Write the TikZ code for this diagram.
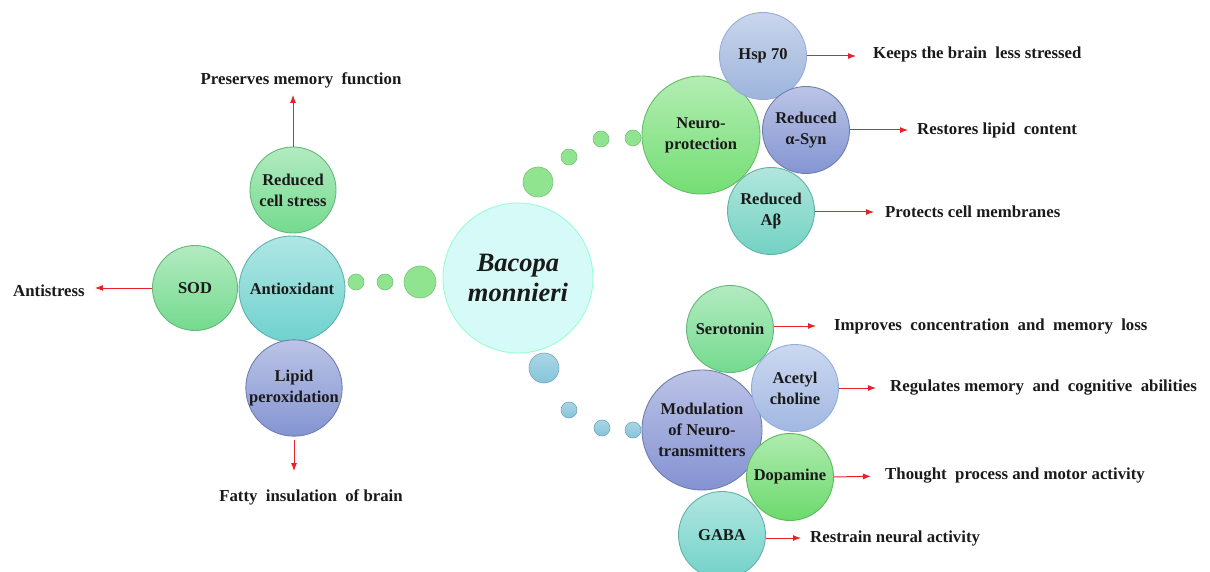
\documentclass[tikz,border=0pt]{standalone}
\usepackage{fontspec}
\setmainfont{Liberation Serif}
\usetikzlibrary{arrows.meta}
\definecolor{arrred}{HTML}{E8202A}
\definecolor{txt}{HTML}{1A1A1A}
\tikzset{
  bub/.style={circle, inner sep=0pt, line width=0.9pt, align=center, text=txt,
    font=\bfseries\fontsize{16.5}{21}\selectfont},
  gr/.style={bub, top color=#1!55!white, bottom color=#1, draw=#1!85!black},
  dot/.style={circle, inner sep=0pt, line width=0.6pt},
  gdot/.style={dot, fill=dotg, draw=dotg!85!black},
  bdot/.style={dot, top color=dotb!70!white, bottom color=dotb, draw=dotb!85!black},
  lbl/.style={inner sep=0pt, text=txt, font=\bfseries\fontsize{16.8}{19}\selectfont},
  arr/.style={draw=arrred, line width=1pt, -{Latex[length=8pt,width=6pt]}},
}
\definecolor{cgreen}{HTML}{74DA8E}
\definecolor{cteal}{HTML}{6FD2CE}
\definecolor{cperi}{HTML}{8494D2}
\definecolor{cneuro}{HTML}{74DE74}
\definecolor{chsp}{HTML}{9DB4DC}
\definecolor{csyn}{HTML}{8495D2}
\definecolor{cab}{HTML}{72D2C2}
\definecolor{cmod}{HTML}{8492D2}
\definecolor{cace}{HTML}{A2B8E2}
\definecolor{cdopa}{HTML}{6CDA6C}
\definecolor{cgaba}{HTML}{72D2C8}
\definecolor{dotg}{HTML}{90E490}
\definecolor{dotb}{HTML}{86C4DA}
\definecolor{cbac}{HTML}{D6FAF8}
\begin{document}
\begin{tikzpicture}[x=1pt,y=-1pt]
\useasboundingbox (0,0) rectangle (1210,572);
\begin{scope}
\clip (0,0) rectangle (1210,572);
% center
\node[bub, minimum size=150pt, fill=cbac, draw=green!45!cyan!40!white,
  font=\bfseries\itshape\fontsize{26.5}{30}\selectfont] (bac) at (518,278) {Bacopa\\monnieri};
% left branch
\node[gdot, minimum size=32pt] (l1) at (420,282) {};
\node[gdot, minimum size=16pt] (l2) at (385,282) {};
\node[gdot, minimum size=16pt] (l3) at (356,282) {};
\node[gr=cgreen, minimum size=85pt] (sod) at (195,288) {SOD};
\node[gr=cteal, minimum size=106pt] (anti) at (292,289) {Antioxidant};
\node[gr=cgreen, minimum size=86pt] (rcs) at (293,190) {Reduced\\cell stress};
\node[gr=cperi, minimum size=88pt] (lip) at (294,388) {Lipid\\peroxidation};
% neuroprotection branch
\node[gdot, minimum size=30pt] (u1) at (538,182) {};
\node[gdot, minimum size=16pt] (u2) at (569,157) {};
\node[gdot, minimum size=16pt] (u3) at (601,139) {};
\node[gdot, minimum size=16pt] (u4) at (633,138) {};
\node[gr=cneuro, minimum size=118pt] (neu) at (701,135) {Neuro-\\protection};
\node[gr=chsp, minimum size=87pt, draw=cyan!35!blue!40!white] (hsp) at (763,56) {Hsp 70};
\node[gr=csyn, minimum size=87pt] (syn) at (806,130) {Reduced\\α-Syn};
\node[gr=cab, minimum size=87pt] (ab) at (771,211) {Reduced\\Aβ};
% modulation branch
\node[bdot, minimum size=30pt] (b1) at (544,368) {};
\node[bdot, minimum size=16pt] (b2) at (569,410) {};
\node[bdot, minimum size=16pt] (b3) at (602,428) {};
\node[bdot, minimum size=16pt] (b4) at (633,430) {};
\node[gr=cmod, minimum size=120pt] (mod) at (702,430) {Modulation\\of Neuro-\\transmitters};
\node[gr=cgreen, minimum size=87pt] (ser) at (730,329) {Serotonin};
\node[gr=cace, minimum size=87pt, draw=cyan!50!blue!45!white] (ace) at (795,388) {Acetyl\\choline};
\node[gr=cgaba, minimum size=87pt] (gaba) at (722,535) {GABA};
\node[gr=cdopa, minimum size=87pt] (dopa) at (790,477) {Dopamine};
\end{scope}
% labels
\node[lbl] (t_pres) at (301,80) {Preserves memory\ \ function};
\node[lbl] (t_anti) at (49,291) {Antistress};
\node[lbl] (t_fat) at (311,497) {Fatty\ \ insulation\ \ of brain};
\node[lbl, anchor=west] (t_hsp) at (873,54) {Keeps the brain\ \ less stressed};
\node[lbl, anchor=west] (t_syn) at (917,130) {Restores lipid\ \ content};
\node[lbl, anchor=west] (t_ab) at (885,212) {Protects\ cell membranes};
\node[lbl, anchor=west] (t_ser) at (834,326) {Improves\ \ concentration\ \ and\ \ memory\ \ loss};
\node[lbl, anchor=west] (t_ace) at (890,388) {Regulates memory\ \ and\ \ cognitive\ \ abilities};
\node[lbl, anchor=west] (t_dopa) at (885,476) {Thought\ \ process and motor activity};
\node[lbl, anchor=west] (t_gaba) at (810,538) {Restrain neural activity};
% arrows
\draw[arr, shorten >=7pt] (rcs.north) -- (rcs.north |- t_pres.south);
\draw[arr, shorten >=10pt] (sod.west) -- (t_anti.east |- sod.west);
\draw[arr, shorten <=3pt, shorten >=18pt] (lip.south) -- (lip.south |- t_fat.north);
\draw[arr, shorten >=17pt] (hsp.east) -- (t_hsp.west |- hsp.east);
\draw[arr, shorten >=9pt] (syn.east) -- (t_syn.west);
\draw[arr, shorten >=11pt] (ab.east |- t_ab.west) -- (t_ab.west);
\draw[arr, shorten >=18pt] (ser.east |- t_ser.west) -- (t_ser.west);
\draw[arr, shorten >=14pt] (ace.east) -- (t_ace.west);
\draw[arr, shorten >=14pt] (dopa.east) -- (t_dopa.west);
\draw[arr, shorten >=9pt] (gaba.east |- t_gaba.west) -- (t_gaba.west);
\end{tikzpicture}
\end{document}
